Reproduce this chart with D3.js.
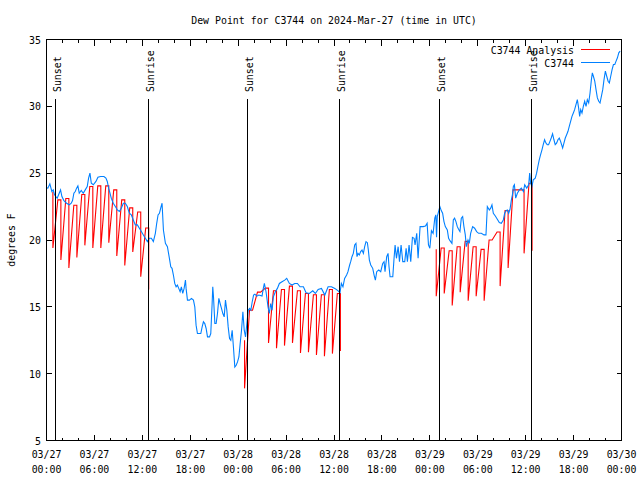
<!DOCTYPE html>
<html><head><meta charset="utf-8">
<script src="https://cdn.jsdelivr.net/npm/d3@7"></script>
<style>body{margin:0;background:#fff}svg{display:block}</style>
</head><body>
<svg id="c" width="640" height="480"></svg>
<script>
// ---------------- data ----------------
const chartTitle = "Dew Point for C3744 on 2024-Mar-27 (time in UTC)";
const yAxisLabel = "degrees F";
const startTime = "2024-03-27T00:00:00Z";
const endTime = "2024-03-30T00:00:00Z";
const yTickValues = [5, 10, 15, 20, 25, 30, 35];
const seriesNames = ["C3744 Analysis", "C3744"];
const eventLabels = ["Sunset", "Sunrise", "Sunset", "Sunrise", "Sunset", "Sunrise"];
const eventTimes = ["2024-03-27T01:10:00Z", "2024-03-27T12:47:00Z", "2024-03-28T01:11:00Z",
                    "2024-03-28T12:45:00Z", "2024-03-29T01:12:00Z", "2024-03-29T12:44:00Z"];
// analysis: [hours since start of each hourly reset, value before reset, value after reset]
const analysisTeeth = [
  [0.8,23.6,19.4],[1.8,23.0,18.5],[2.8,23.1,17.9],[3.8,22.6,18.7],[4.8,23.4,19.6],[5.8,24.0,19.4],
  [6.8,24.05,19.4],[7.8,24.05,19.8],[8.8,23.75,18.8],[9.8,23.0,18.1],[10.8,22.4,19.1],[11.8,22.1,17.25],[12.8,20.9,16.3],
  [24.8,12.5,8.9],[25.8,14.75,14.75],[26.8,16.1,16.1],[27.8,16.4,12.3],[28.8,16.2,11.9],[29.8,16.3,12.1],
  [30.8,16.55,12.3],[31.8,16.2,11.55],[32.8,16.0,11.6],[33.8,15.9,11.4],[34.8,15.9,11.3],[35.8,16.3,11.5],[36.8,16.0,11.7],
  [48.8,19.3,15.8],[49.8,19.4,16.0],[50.8,19.2,15.1],[51.8,19.5,16.1],[52.8,19.9,15.45],[53.8,19.5,15.8],
  [54.8,19.3,15.45],[55.8,20.0,20.0],[56.8,20.6,16.55],[57.8,22.2,17.9],[58.8,23.75,23.75],[59.8,23.75,19.0],[60.8,24.25,19.2]
];
// observations: [hours since start, dew point F]
const obsPoints = [
  [0.00,23.9],[0.17,23.88],[0.42,24.2],[0.67,23.63],[0.84,23.75],[1.01,23.38],[1.17,23.25],[1.34,23.13],[1.59,23.5],[1.76,23.75],
  [1.93,23.25],[2.18,22.95],[2.51,22.75],[2.85,22.63],[3.10,22.75],[3.26,22.95],[3.43,23.5],[3.60,23.63],[3.77,23.88],[3.93,24.05],
  [4.10,23.5],[4.35,23.7],[4.60,23.5],[4.85,23.75],[5.10,24.0],[5.27,24.63],[5.44,25.0],[5.61,24.25],[5.86,24.13],[6.19,24.38],
  [6.44,24.7],[6.78,24.75],[7.19,24.75],[7.44,24.63],[7.61,24.38],[7.78,23.88],[7.95,23.5],[8.11,23.13],[8.36,22.75],[8.62,22.5],
  [8.87,22.25],[9.12,22.13],[9.37,22.38],[9.62,22.75],[9.87,22.75],[10.12,22.5],[10.37,22.0],[10.62,21.88],[10.87,21.5],[11.12,21.13],
  [11.38,21.13],[11.63,20.88],[11.88,20.63],[12.13,20.38],[12.38,20.13],[12.63,19.88],[12.88,20.13],[13.13,20.13],[13.38,19.88],[13.63,20.5],
  [13.80,21.25],[13.97,21.88],[14.14,22.0],[14.30,22.38],[14.47,22.75],[14.64,20.75],[14.89,19.75],[15.14,19.5],[15.39,18.63],[15.56,18.0],
  [15.72,17.88],[15.89,17.38],[16.06,16.75],[16.23,16.5],[16.39,16.63],[16.56,16.38],[16.73,16.13],[16.89,16.5],[17.06,16.0],[17.23,16.38],
  [17.40,17.0],[17.48,16.38],[17.65,15.5],[17.90,15.5],[18.15,15.63],[18.40,15.5],[18.57,15.0],[18.73,13.63],[18.90,13.0],[19.15,13.0],
  [19.32,13.0],[19.49,13.5],[19.65,13.88],[19.82,13.75],[19.99,13.38],[20.16,12.75],[20.41,12.75],[20.57,13.0],[20.74,15.25],[20.82,16.5],
  [20.91,15.75],[21.08,13.75],[21.24,13.75],[21.41,14.5],[21.58,15.63],[21.74,15.25],[21.91,14.88],[22.08,14.5],[22.25,14.25],[22.41,15.5],
  [22.58,14.75],[22.75,13.5],[22.92,12.63],[23.08,12.5],[23.25,13.25],[23.42,11.88],[23.58,10.5],[23.75,10.63],[23.92,10.88],[24.09,11.25],
  [24.25,12.25],[24.42,13.25],[24.59,14.63],[24.76,13.25],[24.92,12.75],[25.09,13.75],[25.26,14.75],[25.43,14.88],[25.59,14.75],[25.76,15.38],
  [25.93,15.88],[26.09,15.95],[26.34,15.8],[26.59,15.88],[26.99,15.8],[27.15,16.38],[27.28,16.75],[27.49,16.13],[27.74,15.0],[27.90,14.5],
  [28.07,15.25],[28.24,14.75],[28.41,15.75],[28.66,16.13],[28.91,16.38],[29.16,16.75],[29.49,16.88],[29.83,17.0],[30.08,17.13],[30.41,16.75],
  [30.75,16.63],[31.08,16.75],[31.42,16.75],[31.75,16.5],[32.17,16.5],[32.50,16.05],[32.92,16.0],[33.34,16.2],[33.67,16.0],[34.01,16.3],
  [34.43,16.38],[34.85,15.88],[35.26,16.5],[35.68,16.5],[36.10,16.38],[36.52,16.2],[36.75,16.05],[36.92,16.75],[37.12,16.5],[37.33,17.13],
  [37.58,17.38],[37.75,17.63],[37.96,18.13],[38.09,18.38],[38.25,18.75],[38.42,19.0],[38.59,19.63],[38.75,19.75],[38.88,18.75],[39.01,19.0],
  [39.17,18.88],[39.34,19.13],[39.51,19.25],[39.68,19.0],[39.84,19.5],[40.01,19.88],[40.18,19.8],[40.30,19.25],[40.43,18.5],[40.60,18.13],
  [40.85,17.88],[41.02,17.38],[41.18,17.0],[41.35,17.63],[41.60,17.75],[41.85,17.63],[42.10,18.25],[42.27,18.38],[42.39,17.63],[42.60,18.75],
  [42.77,19.0],[42.89,18.0],[43.02,17.25],[43.36,17.25],[43.52,18.63],[43.65,19.63],[43.82,18.63],[44.03,19.5],[44.20,18.38],[44.40,19.63],
  [44.61,18.38],[44.86,18.38],[45.03,19.38],[45.19,18.38],[45.40,19.63],[45.61,18.38],[45.82,20.2],[46.03,20.13],[46.15,19.63],[46.36,20.5],
  [46.53,18.63],[46.78,21.0],[47.16,21.0],[47.45,21.05],[47.66,21.25],[47.83,19.63],[48.00,19.38],[48.20,20.7],[48.41,20.5],[48.62,21.63],
  [48.75,21.88],[48.84,20.2],[48.93,21.75],[49.09,22.13],[49.26,22.5],[49.43,22.2],[49.60,22.0],[49.77,21.38],[49.94,21.0],[50.19,20.75],
  [50.35,20.13],[50.52,19.95],[50.77,19.75],[50.94,21.5],[51.10,21.63],[51.27,21.38],[51.44,21.0],[51.60,20.8],[51.77,20.63],[51.94,21.63],
  [52.11,21.75],[52.27,21.0],[52.44,20.38],[52.57,19.5],[52.78,20.0],[52.94,19.75],[53.11,20.5],[53.36,21.0],[53.61,20.88],[53.86,20.63],
  [54.11,20.5],[54.45,20.5],[54.78,20.38],[55.03,20.38],[55.20,22.5],[55.45,22.25],[55.62,22.38],[55.78,22.63],[55.95,22.0],[56.20,21.8],
  [56.45,21.55],[56.70,21.3],[56.95,21.25],[57.20,21.5],[57.37,22.0],[57.54,22.2],[57.71,22.25],[57.87,22.0],[58.04,22.3],[58.21,23.0],
  [58.34,23.38],[58.46,24.0],[58.59,24.13],[58.75,23.13],[58.96,23.5],[59.21,23.75],[59.46,23.88],[59.72,23.63],[59.88,24.13],[60.13,23.88],
  [60.38,24.13],[60.50,25.0],[60.62,24.25],[60.78,24.0],[60.95,24.5],[61.20,24.63],[61.37,25.0],[61.53,25.5],[61.70,26.0],[61.87,26.38],
  [62.04,26.75],[62.20,27.13],[62.37,27.5],[62.54,27.25],[62.70,27.13],[62.87,27.13],[63.04,27.38],[63.20,27.63],[63.37,27.95],[63.54,27.5],
  [63.70,27.13],[63.87,27.25],[64.04,27.5],[64.21,27.63],[64.37,27.38],[64.63,26.88],[64.79,27.25],[64.96,27.63],[65.13,27.88],[65.30,28.13],
  [65.46,28.5],[65.63,28.88],[65.80,29.25],[65.97,29.5],[66.13,29.75],[66.30,30.13],[66.47,30.5],[66.63,29.88],[66.76,29.25],[66.89,29.75],
  [67.05,29.5],[67.22,30.0],[67.39,30.38],[67.56,30.0],[67.72,30.5],[67.89,30.25],[68.06,31.0],[68.23,32.0],[68.35,32.5],[68.48,32.25],
  [68.65,31.88],[68.81,31.25],[68.98,30.63],[69.15,30.38],[69.31,30.25],[69.48,30.75],[69.65,31.25],[69.81,32.0],[69.98,32.63],[70.15,32.25],
  [70.32,31.88],[70.48,31.75],[70.65,32.25],[70.82,32.75],[70.99,33.13],[71.16,33.13],[71.32,33.38],[71.49,33.63],[71.66,34.0],[71.83,34.13]
];

// ---------------- drawing ----------------
const W = 640, H = 480;
const pL = 46.5, pR = 621.5, pT = 39.5, pB = 440.5;
const FONT = "'DejaVu Sans Mono', 'Liberation Mono', monospace";
const CHAR_W = 5.95;
const RISE_H = 0.62; // duration of the recovery ramp after each analysis reset
const svg = d3.select("#c");
svg.append("rect").attr("width", W).attr("height", H).attr("fill", "#fff");

const t0 = new Date(startTime), t1 = new Date(endTime);
const hourToDate = h => new Date(t0.getTime() + h * 3600e3);
const x = d3.scaleUtc().domain([t0, t1]).range([pL, pR]);
const y = d3.scaleLinear().domain([5, 35]).range([pB, pT]);

function label(g, px, py, s, anchor) {
  return g.append("text").attr("x", px).attr("y", py)
    .attr("text-anchor", anchor || "start")
    .attr("font-family", FONT).attr("font-size", 11).attr("fill", "#000")
    .attr("textLength", s.length * CHAR_W).attr("lengthAdjust", "spacingAndGlyphs")
    .text(s);
}

svg.append("clipPath").attr("id", "plotclip").append("rect")
  .attr("x", pL).attr("y", pT).attr("width", pR - pL).attr("height", pB - pT);

const line = d3.line().x(d => x(hourToDate(d[0]))).y(d => y(d[1]));
const plot = svg.append("g").attr("clip-path", "url(#plotclip)");

// analysis segments: reset drop, then quick ramp up to the next pre-reset value, then hold
const segs = [];
let cur = [];
analysisTeeth.forEach((d, i) => {
  const prev = analysisTeeth[i - 1];
  if (i > 0 && d[0] - prev[0] > 1.5) { segs.push(cur); cur = []; }
  if (cur.length) cur.push([prev[0] + RISE_H, d[1]]);
  cur.push([d[0], d[1]], [d[0], d[2]]);
});
segs.push(cur);
plot.selectAll("path.an").data(segs).enter().append("path").attr("class", "an")
  .attr("d", line).attr("fill", "none").attr("stroke", "#ff0000").attr("stroke-width", 1.1);

plot.append("path").datum(obsPoints).attr("d", line)
  .attr("fill", "none").attr("stroke", "#0080ff").attr("stroke-width", 1.1);

const evG = svg.append("g");
eventTimes.forEach((et, i) => {
  const px = Math.round(x(new Date(et)) - 0.5) + 0.5;
  evG.append("line").attr("x1", px).attr("x2", px).attr("y1", y(30.55)).attr("y2", pB)
    .attr("stroke", "#000").attr("stroke-width", 1).attr("shape-rendering", "crispEdges");
  label(evG, 0, 0, eventLabels[i], "start")
    .attr("x", null).attr("y", null)
    .attr("transform", `translate(${px + 5.5},${y(31.07)}) rotate(-90)`);
});

const ax = svg.append("g").attr("stroke", "#000").attr("stroke-width", 1).attr("shape-rendering", "crispEdges");
const majorX = x.ticks(d3.utcHour.every(6));
const minorX = x.ticks(d3.utcHour.every(2));
minorX.forEach(d => {
  const px = Math.round(x(d) - 0.5) + 0.5;
  ax.append("line").attr("x1", px).attr("x2", px).attr("y1", pB).attr("y2", pB - 3);
  ax.append("line").attr("x1", px).attr("x2", px).attr("y1", pT).attr("y2", pT + 3);
});
majorX.forEach(d => {
  const px = Math.round(x(d) - 0.5) + 0.5;
  ax.append("line").attr("x1", px).attr("x2", px).attr("y1", pB).attr("y2", pB - 6);
  ax.append("line").attr("x1", px).attr("x2", px).attr("y1", pT).attr("y2", pT + 6);
});
yTickValues.forEach(v => {
  const py = Math.round(y(v) - 0.5) + 0.5;
  ax.append("line").attr("x1", pL).attr("x2", pL + 5).attr("y1", py).attr("y2", py);
  ax.append("line").attr("x1", pR).attr("x2", pR - 5).attr("y1", py).attr("y2", py);
});
ax.append("rect").attr("x", pL).attr("y", pT).attr("width", pR - pL).attr("height", pB - pT)
  .attr("fill", "none");

const txtG = svg.append("g");
const fmtD = d3.utcFormat("%m/%d"), fmtT = d3.utcFormat("%H:%M");
majorX.forEach(d => {
  label(txtG, x(d), 458, fmtD(d), "middle");
  label(txtG, x(d), 473, fmtT(d), "middle");
});
yTickValues.forEach(v => label(txtG, 41, y(v) + 4, String(v), "end"));

label(txtG, (pL + pR) / 2, 24, chartTitle, "middle");
label(txtG, 0, 0, yAxisLabel, "middle").attr("x", null).attr("y", null)
  .attr("transform", `translate(15,${(pT + pB) / 2}) rotate(-90)`);

const legColors = ["#ff0000", "#0080ff"];
seriesNames.forEach((name, i) => {
  const ly = 49.5 + i * 13;
  label(txtG, 574, ly + 4.5, name, "end");
  svg.append("line").attr("x1", 581).attr("x2", 610).attr("y1", ly).attr("y2", ly)
    .attr("stroke", legColors[i]).attr("stroke-width", 1).attr("shape-rendering", "crispEdges");
});
</script>
</body></html>
